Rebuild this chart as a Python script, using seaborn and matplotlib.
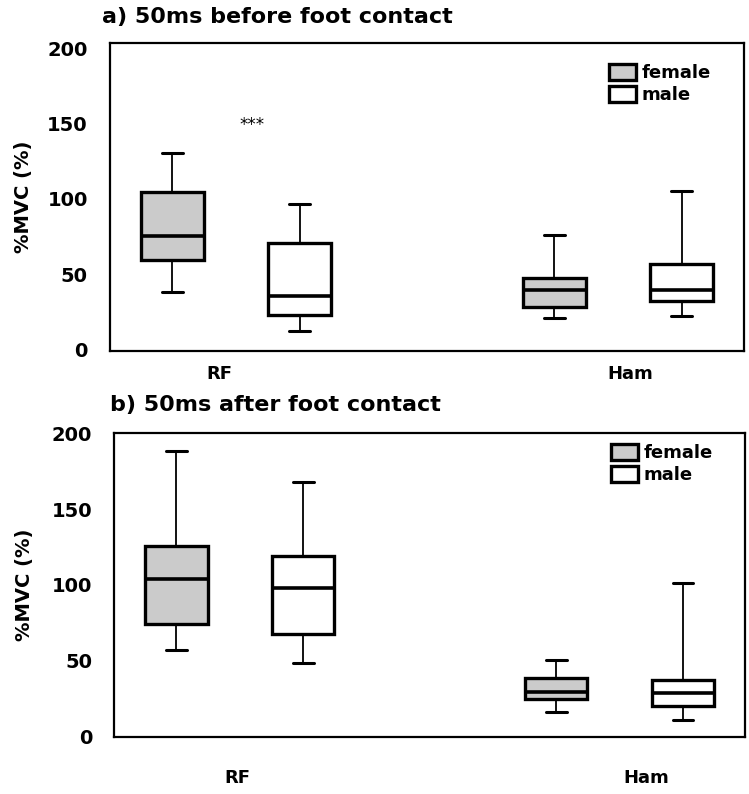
import numpy as np
import pandas as pd
import matplotlib
matplotlib.use("Agg")
import matplotlib.pyplot as plt
from matplotlib.patches import Patch
import seaborn as sns

# ---- data: five-number summaries (min, Q1, median, Q3, max) ----
muscles = ["RF", "Ham"]
sexes = ["female", "male"]

# a) 50ms before foot contact
a_rf_female = [37.8, 59.1, 75.0, 104.4, 130.8]
a_rf_male = [11.9, 22.9, 35.4, 70.4, 96.7]
a_ham_female = [21.0, 27.9, 39.6, 47.3, 76.1]
a_ham_male = [22.2, 32.1, 39.1, 56.5, 105.4]

# b) 50ms after foot contact
b_rf_female = [57.1, 74.6, 103.9, 125.6, 188.5]
b_rf_male = [48.3, 67.6, 98.2, 119.1, 168.1]
b_ham_female = [16.1, 24.6, 29.7, 39.0, 50.5]
b_ham_male = [10.7, 20.5, 28.7, 37.3, 101.5]

titles = ["a) 50ms before foot contact", "b) 50ms after foot contact"]
ylabel = "%MVC (%)"
yticks = [0, 50, 100, 150, 200]
signif_text = "***"
signif_pos = (0.042, 149)

colors = {"female": "#cbcbcb", "male": "white"}


def make_df(rf_f, rf_m, ham_f, ham_m):
    rows = []
    for muscle, sex, vals in [("RF", "female", rf_f), ("RF", "male", rf_m),
                              ("Ham", "female", ham_f), ("Ham", "male", ham_m)]:
        for v in vals:
            rows.append({"muscle": muscle, "sex": sex, "value": v})
    return pd.DataFrame(rows)


df_a = make_df(a_rf_female, a_rf_male, a_ham_female, a_ham_male)
df_b = make_df(b_rf_female, b_rf_male, b_ham_female, b_ham_male)

sns.set_style("white")
plt.rcParams["font.family"] = ["DejaVu Sans"]
plt.rcParams["text.color"] = "black"
plt.rcParams["axes.labelcolor"] = "black"
plt.rcParams["xtick.color"] = "black"
plt.rcParams["ytick.color"] = "black"

fig = plt.figure(figsize=(7.49, 7.94), dpi=100)
ax_a = fig.add_axes([0.1469, 0.5583, 0.8465, 0.3872])
ax_b = fig.add_axes([0.1526, 0.0722, 0.8420, 0.3821])

panels = [
    (ax_a, df_a, (-1, 203.5), [-0.044, 1.031], 10, -0.121, 0.962),
    (ax_b, df_b, (0, 200), [-0.007, 1.07], 23, -0.128, 0.994),
]

for i, (ax, df, ylim, xt, xpad, ylab_x, leg_y) in enumerate(panels):
    sns.boxplot(
        data=df, x="muscle", y="value", hue="sex",
        order=muscles, hue_order=sexes, palette=colors,
        whis=(0, 100), width=0.668, gap=0.506,
        linecolor="black", linewidth=2.4, showfliers=False,
        whiskerprops=dict(linewidth=1.3),
        capprops=dict(linewidth=2.2),
        medianprops=dict(linewidth=2.6),
        capwidths=0.055,
        legend=False, ax=ax,
    )
    ax.set_xlim(-0.33, 1.33)
    ax.set_ylim(*ylim)
    ax.set_yticks(yticks)
    ax.set_yticklabels([str(t) for t in yticks], fontsize=14, fontweight="bold", color="black")
    ax.set_xticks(xt)
    ax.set_xticklabels(muscles, fontsize=13, fontweight="bold", color="black")
    ax.tick_params(axis="x", length=0, pad=xpad)
    ax.tick_params(axis="y", direction="in", length=3, width=0.8, pad=16)
    ax.set_xlabel("")
    ax.set_ylabel(ylabel, fontsize=14, fontweight="bold", color="black")
    ax.yaxis.set_label_coords(ylab_x, 0.5)
    for sp in ax.spines.values():
        sp.set_visible(True)
        sp.set_color("black")
        sp.set_linewidth(1.6)

    handles = [Patch(facecolor=colors[s], edgecolor="black", linewidth=2.4) for s in sexes]
    leg = ax.legend(handles, sexes, loc="upper left", bbox_to_anchor=(0.773, leg_y),
                    frameon=False, borderpad=0, handlelength=1.5, handleheight=1.0,
                    labelspacing=0.2, handletextpad=0.3,
                    prop={"size": 13, "weight": "bold"})
    for t in leg.get_texts():
        t.set_color("black")

    fig.text([102, 110][i] / 749, 1 - [17, 405][i] / 794, titles[i],
             fontsize=16, fontweight="bold", ha="left", va="center", color="black")

ax_a.text(signif_pos[0], signif_pos[1], signif_text, fontsize=12,
          ha="center", va="center", color="black")

fig.savefig("out.png", dpi=100, facecolor="white")
